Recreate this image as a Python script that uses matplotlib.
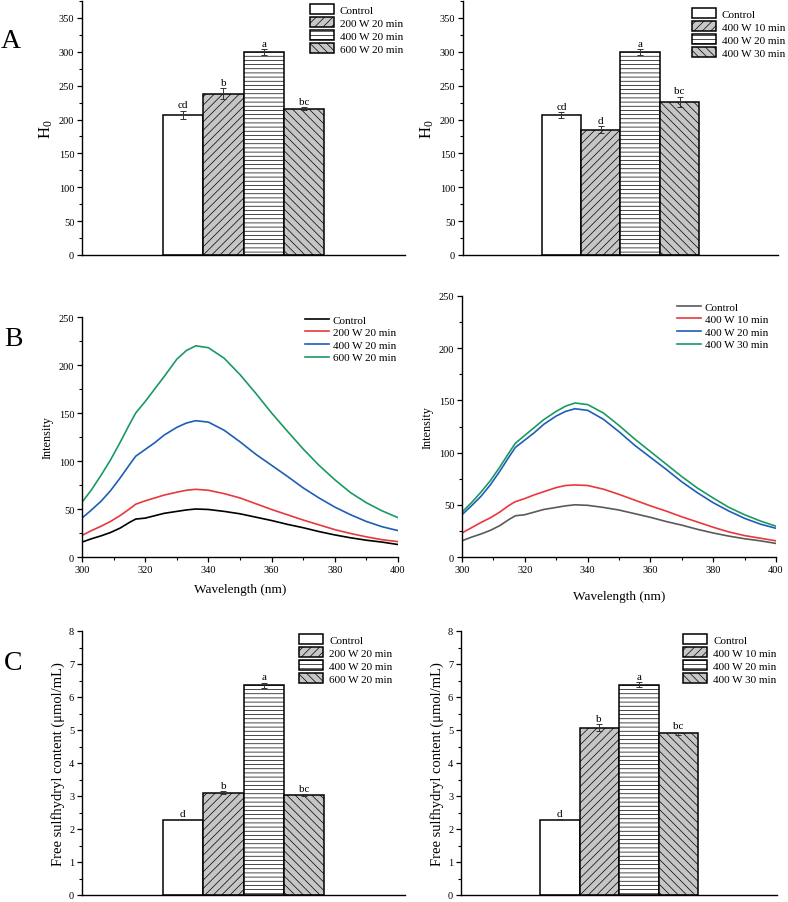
import numpy as np
import matplotlib
matplotlib.use('Agg')
import matplotlib.pyplot as plt
from matplotlib.ticker import MultipleLocator

plt.rcParams['font.family'] = ['Liberation Serif', 'DejaVu Serif']
plt.rcParams['mathtext.fontset'] = 'custom'
plt.rcParams['mathtext.rm'] = 'Liberation Serif'
plt.rcParams['hatch.linewidth'] = 0.5
plt.rcParams['hatch.color'] = 'black'

# ---- data ----
power_labels = ['Control', '200 W 20 min', '400 W 20 min', '600 W 20 min']
time_labels = ['Control', '400 W 10 min', '400 W 20 min', '400 W 30 min']

h0_power = [207, 238, 300, 216]
h0_power_err = [6, 8, 4, 2]
h0_power_sig = ['cd', 'b', 'a', 'bc']
h0_time = [207, 185, 300, 226]
h0_time_err = [4, 5, 4, 8]
h0_time_sig = ['cd', 'd', 'a', 'bc']

sh_power = [2.28, 3.10, 6.35, 3.03]
sh_power_err = [0.02, 0.05, 0.08, 0.03]
sh_power_sig = ['d', 'b', 'a', 'bc']
sh_time = [2.28, 5.07, 6.37, 4.90]
sh_time_err = [0.02, 0.10, 0.08, 0.05]
sh_time_sig = ['d', 'b', 'a', 'bc']

wavelength = [300, 303, 306, 309, 312, 315, 317, 320, 323, 326, 330, 333, 336,
              340, 345, 350, 355, 360, 365, 370, 375, 380, 385, 390, 395, 400]
fl_control = [15.5, 19, 22, 25.5, 30, 36, 39.5, 40.5, 43, 45.5, 47.5, 49, 50,
              49.5, 47.5, 45, 41.5, 38, 34, 30.5, 26.5, 23, 20, 17.5, 15.5, 13]
fl_200w20 = [22.5, 27.5, 32, 37, 43, 50, 55, 58.5, 61.5, 64.5, 67.5, 69.5, 70.5,
             69.5, 66, 61.5, 55.5, 49.5, 44, 38.5, 33.5, 28.5, 24.5, 21, 18, 16]
fl_400w20 = [40.5, 49, 58, 69, 82, 96, 105, 112, 119, 127, 135, 139.5, 142,
             140.5, 132, 120, 107, 95.5, 84, 72, 61.5, 52, 44, 37, 31.5, 27.5]
fl_600w20 = [57, 70, 85, 101, 119, 138, 150, 162, 175, 188, 206, 215, 220,
             218, 207, 190, 170.5, 150, 131, 112.5, 95.5, 80.5, 67, 56.5, 48, 41]
fl_400w10 = [23, 28, 33, 37.5, 43, 49.5, 53, 56, 59.5, 62.5, 66.5, 68.5, 69,
             68.5, 65, 60, 54.5, 49, 44, 38.5, 33.5, 28.5, 24, 20.5, 18, 15.5]
fl_400w30 = [43, 52, 62, 73, 86, 100, 109, 116.5, 124, 131.5, 139.5, 144.5, 147.5,
             146, 138, 126, 113, 101, 89, 77, 66, 56.5, 47.5, 40.5, 34.5, 29.5]

# ---- styles ----
GRAY = '#c6c6c6'
bar_fill = ['white', GRAY, 'white', GRAY]
bar_hatch = [None, '////', '----', '\\\\\\\\']
W, H = 788, 903


def place(x0, x1, top, bottom):
    return [x0 / W, 1 - bottom / H, (x1 - x0) / W, (bottom - top) / H]


def style_axis(ax):
    for s in ['top', 'right']:
        ax.spines[s].set_visible(False)
    for s in ['left', 'bottom']:
        ax.spines[s].set_linewidth(1.0)
    ax.tick_params(which='major', direction='out', length=3.6, width=0.9,
                   labelsize=7.5, pad=2)
    ax.tick_params(which='minor', direction='out', length=2, width=0.8)


def bar_panel(ax, labels, vals, errs, sig, ymax, ystep, ylabel, yfs, leg_xy):
    x = np.arange(len(vals)) + 2.5
    for i in range(len(vals)):
        ax.bar(x[i], vals[i], width=1.0, color=bar_fill[i], edgecolor='black',
               linewidth=1.1, hatch=bar_hatch[i], label=labels[i])
        ax.errorbar(x[i], vals[i], yerr=errs[i], color='#333333', capsize=2,
                    elinewidth=0.7, capthick=0.7, fmt='none')
        ax.annotate(sig[i], (x[i], vals[i] + errs[i]), xytext=(0, 1),
                    textcoords='offset points', ha='center', va='bottom',
                    fontsize=8)
    ax.set_xlim(0, 8)
    ax.set_ylim(0, ymax)
    ax.yaxis.set_major_locator(MultipleLocator(ystep))
    ax.yaxis.set_minor_locator(MultipleLocator(ystep / 2))
    ax.set_xticks([])
    style_axis(ax)
    ax.set_ylabel(ylabel, fontsize=yfs, labelpad=3)
    ax.legend(loc='upper left', bbox_to_anchor=(leg_xy[0] / W, 1 - leg_xy[1] / H),
              bbox_transform=fig.transFigure, frameon=False, fontsize=8,
              borderpad=0, borderaxespad=0, handlelength=2.2, handleheight=1.05,
              labelspacing=0.18, handletextpad=0.5)


def line_panel(ax, series, labels, colors, leg_xy, xpad):
    for ys, lab, c in zip(series, labels, colors):
        ax.plot(wavelength, ys, color=c, lw=1.2, label=lab)
    ax.set_xlim(300, 400)
    ax.set_ylim(0, 250)
    ax.xaxis.set_major_locator(MultipleLocator(20))
    ax.xaxis.set_minor_locator(MultipleLocator(10))
    ax.yaxis.set_major_locator(MultipleLocator(50))
    ax.yaxis.set_minor_locator(MultipleLocator(25))
    style_axis(ax)
    ax.set_xlabel('Wavelength (nm)', fontsize=9.5, labelpad=xpad)
    ax.set_ylabel('Intensity', fontsize=8.8, labelpad=4)
    ax.legend(loc='upper left', bbox_to_anchor=(leg_xy[0] / W, 1 - leg_xy[1] / H),
              bbox_transform=fig.transFigure, frameon=False, fontsize=8,
              borderpad=0, borderaxespad=0, handlelength=2.2,
              labelspacing=0.25, handletextpad=0.3)


fig = plt.figure(figsize=(7.88, 9.03), dpi=100)
fig.set_facecolor('white')

ax1 = fig.add_axes(place(82, 405, 2, 256))
bar_panel(ax1, power_labels, h0_power, h0_power_err, h0_power_sig, 375, 50,
          r'$\mathrm{H_0}$', 12, (310, 5))
ax2 = fig.add_axes(place(463, 778, 2, 256))
bar_panel(ax2, time_labels, h0_time, h0_time_err, h0_time_sig, 375, 50,
          r'$\mathrm{H_0}$', 12, (692, 9))

ax3 = fig.add_axes(place(82, 398, 318, 558))
line_panel(ax3, [fl_control, fl_200w20, fl_400w20, fl_600w20], power_labels,
           ['black', '#e8383d', '#1e5eb8', '#1a9a62'], (305, 316), 6.5)
ax4 = fig.add_axes(place(462, 776, 297, 558))
line_panel(ax4, [fl_control, fl_400w10, fl_400w20, fl_400w30], time_labels,
           ['#5a5a5a', '#e8383d', '#1e5eb8', '#1a9a62'], (677, 303), 11.5)

ax5 = fig.add_axes(place(82, 405, 632, 896))
bar_panel(ax5, power_labels, sh_power, sh_power_err, sh_power_sig, 8, 1,
          'Free sulfhydryl content (μmol/mL)', 10.5, (299, 635))
ax6 = fig.add_axes(place(461, 777, 632, 896))
bar_panel(ax6, time_labels, sh_time, sh_time_err, sh_time_sig, 8, 1,
          'Free sulfhydryl content (μmol/mL)', 10.5, (683, 635))

for lab, (px, py) in zip(['A', 'B', 'C'], [(1, 41), (4, 340), (4, 663)]):
    fig.text(px / W, 1 - py / H, lab, fontsize=20, ha='left', va='center')

fig.savefig('out.png', dpi=100, facecolor='white')
